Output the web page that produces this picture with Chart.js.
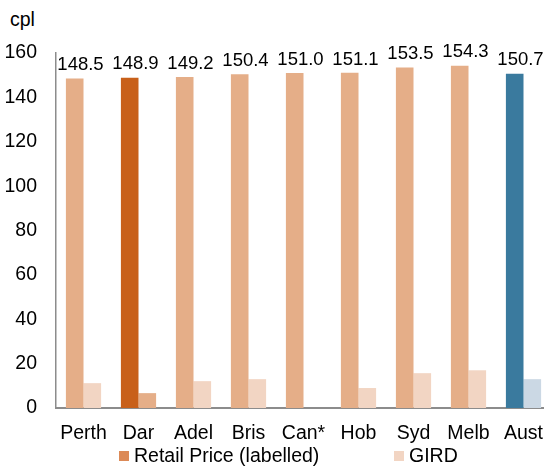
<!DOCTYPE html>
<html>
<head>
<meta charset="utf-8">
<script src="https://cdn.jsdelivr.net/npm/chart.js@4.4.1/dist/chart.umd.min.js"></script>
<style>
  body { margin: 0; background: #fff; font-family: "Liberation Sans", Arial, sans-serif; }
  #wrap { position: relative; width: 544px; height: 474px; overflow: hidden; }
  #grafico { position: absolute; left: 0; top: 0; }
  .titulo { position: absolute; left: 100px; top: -22px; color: #e07020; font-size: 19px; white-space: nowrap; }
  .unidade { position: absolute; left: 10px; top: 8px; font-size: 19.5px; color: #000; }
  .legenda { position: absolute; top: 444px; font-size: 19.5px; color: #000; white-space: nowrap; }
  .legenda span.caixa { display: inline-block; width: 10px; height: 10px; margin-right: 5px; vertical-align: 1px; }
</style>
</head>
<body>
<div id="wrap">
  <div class="titulo">Retail price and GIRD (quarterly average)</div>
  <div class="unidade">cpl</div>
  <canvas id="grafico" width="560" height="474"></canvas>
  <div class="legenda" style="left:119px"><span class="caixa" style="background:#dc8a57"></span>Retail Price (labelled)</div>
  <div class="legenda" style="left:394px"><span class="caixa" style="background:#f2d5c3"></span>GIRD</div>
</div>
<script>
const categorias = ['Perth', 'Dar', 'Adel', 'Bris', 'Can*', 'Hob', 'Syd', 'Melb', 'Aust'];
const precoVarejo = [148.5, 148.9, 149.2, 150.4, 151.0, 151.1, 153.5, 154.3, 150.7];
const gird = [11.2, 6.7, 12.1, 13.0, 0, 9.0, 15.7, 17.0, 13.0];
const rotulosPreco = ['148.5', '148.9', '149.2', '150.4', '151.0', '151.1', '153.5', '154.3', '150.7'];

const corVarejo = ['#e5ae88', '#c8601a', '#e5ae88', '#e5ae88', '#e5ae88', '#e5ae88', '#e5ae88', '#e5ae88', '#3a7a9e'];
const corGird = ['#f2d5c3', '#e5ae88', '#f2d5c3', '#f2d5c3', '#f2d5c3', '#f2d5c3', '#f2d5c3', '#f2d5c3', '#cbd8e4'];

// escreve o valor acima de cada grupo
const rotulos = {
  id: 'rotulos',
  afterDatasetsDraw(chart) {
    const ctx = chart.ctx;
    const meta = chart.getDatasetMeta(0);
    const x = chart.scales.x;
    ctx.save();
    ctx.font = '18.5px "Liberation Sans", Arial, sans-serif';
    ctx.fillStyle = '#000';
    ctx.textAlign = 'center';
    ctx.textBaseline = 'bottom';
    meta.data.forEach((barra, i) => {
      ctx.fillText(rotulosPreco[i], x.getPixelForValue(i) - 3, barra.y - 4);
    });
    ctx.restore();
  }
};

const fonte = { family: '"Liberation Sans", Arial, sans-serif', size: 19.5 };

new Chart(document.getElementById('grafico').getContext('2d'), {
  type: 'bar',
  data: {
    labels: categorias,
    datasets: [
      { label: 'Retail Price (labelled)', data: precoVarejo, backgroundColor: corVarejo },
      { label: 'GIRD', data: gird, backgroundColor: corGird }
    ]
  },
  options: {
    responsive: false,
    devicePixelRatio: 1,
    animation: false,
    barPercentage: 1,
    categoryPercentage: 0.64,
    layout: { padding: { left: 4, right: 9, top: 53, bottom: 0 } },
    plugins: {
      legend: { display: false },
      tooltip: { enabled: false }
    },
    scales: {
      x: {
        grid: { display: false, drawTicks: false },
        border: { color: '#8c8c8c', width: 2 },
        ticks: { color: '#000', font: fonte, padding: 14, maxRotation: 0, autoSkip: false },
        afterFit: (eixo) => { eixo.height = 66; }
      },
      y: {
        min: 0,
        max: 160,
        grid: { display: false, drawTicks: false },
        border: { color: '#8c8c8c', width: 1.5 },
        ticks: { color: '#000', font: fonte, stepSize: 20, padding: 19 },
        afterFit: (eixo) => { eixo.width = 52; }
      }
    }
  },
  plugins: [rotulos]
});
</script>
</body>
</html>
